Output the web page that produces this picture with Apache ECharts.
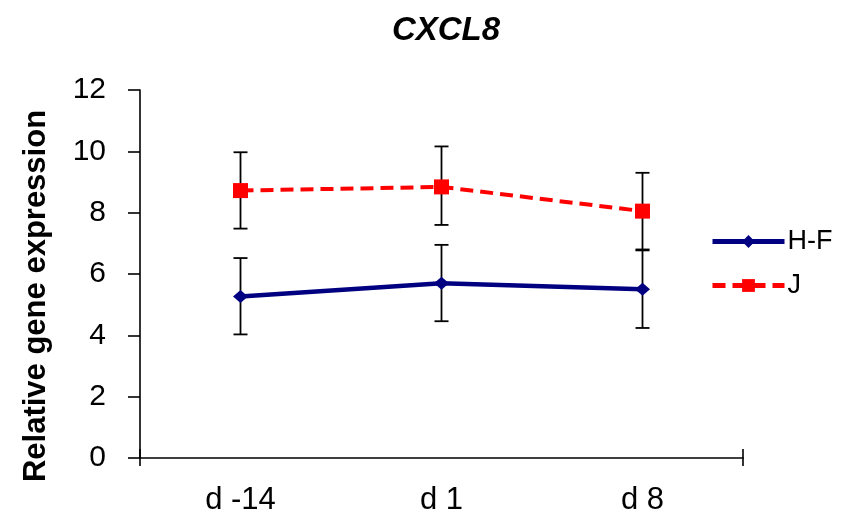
<!DOCTYPE html>
<html>
<head>
<meta charset="utf-8">
<script src="https://cdn.jsdelivr.net/npm/echarts@6/dist/echarts.min.js"></script>
<style>html,body{margin:0;padding:0;background:#fff}#c{width:845px;height:520px}</style>
</head>
<body>
<div id="c"></div>
<script>
var categories = ['d -14', 'd 1', 'd 8'];
var hfValues = [5.27, 5.7, 5.5];
var hfLow = [4.03, 4.46, 4.24];
var hfHigh = [6.52, 6.95, 6.77];
var jValues = [8.72, 8.84, 8.05];
var jLow = [7.48, 7.6, 6.8];
var jHigh = [9.97, 10.16, 9.3];
var yTicks = {min: 0, max: 12, interval: 2};

var FONT = '"Liberation Sans", Arial, sans-serif';

function errData(low, high) {
  return low.map(function (l, i) { return [i, l, high[i]]; });
}
function errRender(params, api) {
  var x = api.value(0);
  var lo = api.coord([x, api.value(1)]);
  var hi = api.coord([x, api.value(2)]);
  var w = 7;
  var st = {stroke: '#000', lineWidth: 1.8};
  return {
    type: 'group',
    children: [
      {type: 'line', shape: {x1: lo[0], y1: lo[1], x2: hi[0], y2: hi[1]}, style: st},
      {type: 'line', shape: {x1: lo[0] - w, y1: lo[1], x2: lo[0] + w, y2: lo[1]}, style: st},
      {type: 'line', shape: {x1: hi[0] - w, y1: hi[1], x2: hi[0] + w, y2: hi[1]}, style: st}
    ]
  };
}

var tickStyle = {color: '#000', width: 1.6};
var chart = echarts.init(document.getElementById('c'), null, {renderer: 'canvas'});
chart.setOption({
  animation: false,
  backgroundColor: '#fff',
  title: {
    text: 'CXCL8', left: 441, top: 9, textAlign: 'center',
    textStyle: {fontFamily: FONT, fontStyle: 'italic', fontWeight: 'bold', fontSize: 33, color: '#000'}
  },
  legend: {
    orient: 'vertical', left: 705, top: 223, itemWidth: 72, itemHeight: 16, itemGap: 17,
    lineStyle: {width: 5},
    textStyle: {fontFamily: FONT, fontSize: 27, color: '#000', lineHeight: 26, padding: [0, 0, 0, -2]},
    data: ['H-F', 'J']
  },
  grid: {left: 140, right: 102, top: 90, bottom: 62, containLabel: false},
  xAxis: [
    {
      type: 'category', data: categories, boundaryGap: true,
      axisLine: {lineStyle: {color: '#000', width: 1.6}},
      axisTick: {alignWithLabel: true, inside: false, length: 8, lineStyle: tickStyle},
      axisLabel: {fontFamily: FONT, fontSize: 31, color: '#000', margin: 27},
      splitLine: {show: false}
    },
    {
      type: 'category', data: categories, boundaryGap: true, position: 'bottom',
      axisLine: {show: false},
      axisTick: {alignWithLabel: true, inside: true, length: 9, lineStyle: tickStyle},
      axisLabel: {show: false}, splitLine: {show: false}
    },
    {
      type: 'value', min: 0, max: 3, interval: 3, position: 'bottom',
      axisLine: {show: false},
      axisTick: {show: true, inside: false, length: 8, lineStyle: tickStyle},
      axisLabel: {show: false}, splitLine: {show: false}
    },
    {
      type: 'value', min: 0, max: 3, interval: 3, position: 'bottom',
      axisLine: {show: false},
      axisTick: {show: true, inside: true, length: 9, lineStyle: tickStyle},
      axisLabel: {show: false}, splitLine: {show: false}
    }
  ],
  yAxis: {
    type: 'value', min: yTicks.min, max: yTicks.max, interval: yTicks.interval,
    name: 'Relative gene expression', nameLocation: 'middle', nameGap: 88,
    nameTextStyle: {fontFamily: FONT, fontWeight: 'bold', fontSize: 31, color: '#000', padding: [0, 44, 0, 0]},
    axisLine: {show: true, lineStyle: {color: '#000', width: 1.6}},
    axisTick: {show: true, length: 12, lineStyle: tickStyle},
    axisLabel: {fontFamily: FONT, fontSize: 30, color: '#000', margin: 34},
    splitLine: {show: false}
  },
  series: [
    {type: 'custom', name: 'errHF', renderItem: errRender, data: errData(hfLow, hfHigh), z: 1, silent: true},
    {type: 'custom', name: 'errJ', renderItem: errRender, data: errData(jLow, jHigh), z: 1, silent: true},
    {
      name: 'H-F', type: 'line', data: hfValues, z: 3,
      symbol: 'diamond', symbolSize: [15, 13],
      lineStyle: {color: '#000080', width: 4.5},
      itemStyle: {color: '#000080'}
    },
    {
      name: 'J', type: 'line', data: jValues, z: 3,
      symbol: 'rect', symbolSize: 15,
      lineStyle: {color: '#ff0000', width: 4, type: [13, 7]},
      itemStyle: {color: '#ff0000'}
    }
  ]
});
</script>
</body>
</html>
